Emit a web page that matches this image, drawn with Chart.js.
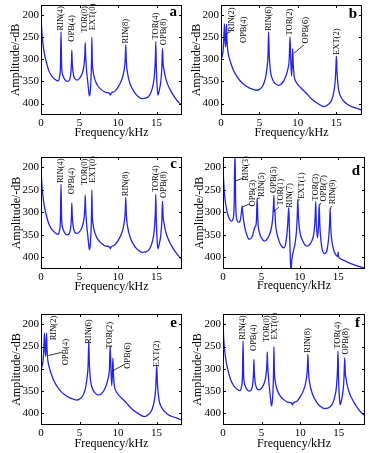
<!DOCTYPE html>
<html><head><meta charset="utf-8">
<script src="https://cdn.jsdelivr.net/npm/chart.js@4.4.1/dist/chart.umd.min.js"></script>
<style>
html,body{margin:0;padding:0;background:#fff;}
#wrap{position:relative;width:374px;height:453px;overflow:hidden;background:#fff;}
canvas{position:absolute;}
</style></head><body><div id="wrap"></div>
<script>
// ---------- data ----------
const xTicks = [0, 5, 10, 15];
const yTicks = [200, 250, 300, 350, 400];

// spectrum shown in panels a, c, f (kHz, dB)
const freqA = [0,0.1,0.2,0.4,0.7,1.0,1.4,1.8,2.2,2.4,2.52,2.6,2.68,2.85,3.1,3.4,3.7,3.88,3.96,4.0,4.05,4.15,4.35,4.65,5.0,5.3,5.5,5.63,5.7,5.74,5.79,5.9,6.05,6.18,6.28,6.38,6.47,6.55,6.6,6.65,6.75,6.95,7.3,7.8,8.4,8.9,9.0,9.1,9.6,10.1,10.5,10.78,10.93,11.0,11.07,11.25,11.6,12.1,12.6,13.1,13.6,14.1,14.45,14.7,14.84,14.9,14.97,15.08,15.18,15.35,15.55,15.68,15.77,15.85,15.95,16.1,16.4,16.9,17.4,17.9,18.3];
const ampA  = [198,235,256,283,307,325,338,345,349,340,318,238,316,337,346,350,346,330,305,279,305,328,343,347,343,334,322,305,285,262,290,322,348,370,383,375,352,310,250,300,325,343,358,368,375,377,381,377,372,360,345,325,300,267,303,333,357,374,384,389,388,381,365,340,300,260,320,365,381,370,350,320,275,310,322,337,355,373,387,398,404];

// spectrum shown in panels b, e
const freqB = [0,0.15,0.28,0.36,0.45,0.52,0.6,0.66,0.72,0.78,0.88,1.05,1.3,1.6,2.0,2.5,3.0,3.6,4.2,4.6,5.0,5.4,5.75,5.98,6.12,6.2,6.28,6.42,6.65,7.0,7.5,8.0,8.4,8.7,8.88,8.98,9.08,9.18,9.27,9.33,9.4,9.52,9.8,10.3,11.0,11.8,12.6,13.4,13.9,14.4,14.7,14.88,14.96,15.02,15.1,15.3,15.7,16.3,17.0,17.7,18.35];
const ampB  = [300,293,280,255,220,255,272,250,220,255,280,295,310,324,337,349,357,364,368,370,368,361,345,320,290,238,290,325,343,354,359,353,340,322,300,249,300,338,310,276,310,338,352,363,375,390,400,407,403,392,372,345,315,293,330,368,388,400,407,411,415];

// spectrum shown in panel d
const freqD = [0,0.1,0.2,0.35,0.55,0.8,1.1,1.3,1.45,1.56,1.66,1.8,2.0,2.25,2.4,2.5,2.6,2.8,3.1,3.4,3.75,4.0,4.15,4.25,4.35,4.45,4.55,4.75,5.05,5.4,5.8,6.2,6.45,6.56,6.63,6.69,6.75,6.82,6.95,7.3,7.7,7.95,8.2,8.4,8.5,8.57,8.64,8.74,8.85,8.97,9.15,9.4,9.58,9.68,9.74,9.82,9.98,10.35,10.9,11.5,11.85,12.0,12.08,12.16,12.32,12.44,12.53,12.62,12.85,13.25,13.55,13.8,13.9,13.96,14.04,14.3,14.65,14.95,15.0,15.05,15.5,16.5,17.5,18.5];
const ampD  = [205,235,260,282,300,313,320,315,285,165,285,316,322,318,300,286,305,330,350,360,356,342,333,331,320,268,320,345,358,364,358,342,318,290,262,300,294,320,340,364,377,379,366,335,305,290,330,385,432,405,388,368,340,305,271,305,340,362,375,366,345,312,276,322,357,330,282,330,375,392,384,350,318,292,335,375,393,398,388,399,405,413,419,424];

// peak labels: text, frequency (kHz), amplitude where the text starts (dB)
const notesAText = ['RIN(4)','OPB(4)','TOR(0)','EXT(0)','RIN(8)','TOR(4)','OPB(8)'];
const notesAFreq = [2.6, 4.0, 5.72, 6.7, 11.0, 14.85, 15.9];
const notesADb   = [235, 260, 240, 234, 264, 255, 268];

const notesBText = ['RIN(2)','OPB(4)','RIN(6)','TOR(2)','OPB(6)','EXT(2)'];
const notesBFreq = [1.4, 2.9, 6.17, 9.0, 11.0, 15.05];
const notesBDb   = [238, 263, 236, 246, 264, 290];
const leadersB   = [[0.74, 242, 1.25, 237], [9.5, 286, 10.75, 268]];

const notesEText = ['RIN(2)','OPB(4)','RIN(6)','TOR(2)','OPB(6)','EXT(2)'];
const notesEFreq = [1.65, 3.15, 6.25, 8.9, 11.2, 15.0];
const notesEDb   = [236, 292, 244, 255, 300, 296];
const leadersE   = [[0.95, 270, 2.7, 263], [9.35, 304, 10.85, 290]];

const notesDText = ['RIN(3)','OPB(3)','RIN(5)','OPB(5)','TOR(1)','RIN(7)','EXT(1)','TOR(3)','OPB(7)','RIN(9)'];
const notesDFreq = [3.0, 3.85, 5.08, 6.6, 7.58, 8.7, 10.26, 12.12, 13.07, 14.36];
const notesDDb   = [230, 287, 266, 257, 285, 290, 270, 274, 276, 282];
const leadersD   = [[1.62, 230, 2.65, 224], [2.52, 288, 3.5, 281], [4.47, 270, 4.8, 268], [6.75, 296, 7.3, 288], [9.76, 273, 10.0, 272], [12.56, 284, 12.8, 279], [13.97, 294, 14.12, 286]];

const panelLetters = ['a','b','c','d','e','f'];

// ---------- drawing ----------
const SERIF = '"Liberation Serif", "Times New Roman", serif';
const wrap = document.getElementById('wrap');

const decor = {
  id: 'decor',
  afterDatasetsDraw(chart, args, o) {
    const {ctx, chartArea: ca, scales: {x, y}} = chart;
    ctx.save();
    ctx.strokeStyle = '#000';
    ctx.lineWidth = 1;
    ctx.strokeRect(ca.left + 0.5, ca.top + 0.5, ca.right - ca.left - 1, ca.bottom - ca.top - 1);
    ctx.beginPath();
    xTicks.forEach(v => {
      const px = Math.round(x.getPixelForValue(v)) + 0.5;
      ctx.moveTo(px, ca.bottom); ctx.lineTo(px, ca.bottom - 3);
      ctx.moveTo(px, ca.top); ctx.lineTo(px, ca.top + 3);
    });
    yTicks.forEach(v => {
      const py = Math.round(y.getPixelForValue(v)) + 0.5;
      ctx.moveTo(ca.left, py); ctx.lineTo(ca.left + 3, py);
      ctx.moveTo(ca.right, py); ctx.lineTo(ca.right - 3, py);
    });
    ctx.stroke();
    // leader lines
    ctx.lineWidth = 0.8;
    ctx.beginPath();
    (o.leaders || []).forEach(l => {
      ctx.moveTo(x.getPixelForValue(l[0]), y.getPixelForValue(l[1]));
      ctx.lineTo(x.getPixelForValue(l[2]), y.getPixelForValue(l[3]));
    });
    ctx.stroke();
    // rotated labels
    ctx.fillStyle = '#000';
    ctx.font = '8.5px ' + SERIF;
    ctx.textAlign = 'left';
    ctx.textBaseline = 'middle';
    o.text.forEach((t, i) => {
      ctx.save();
      ctx.translate(x.getPixelForValue(o.freq[i]), y.getPixelForValue(o.db[i]));
      ctx.rotate(-Math.PI / 2);
      ctx.fillText(t, 0, 0);
      ctx.restore();
    });
    // panel letter
    ctx.font = 'bold 15px ' + SERIF;
    ctx.textAlign = 'right';
    ctx.textBaseline = 'alphabetic';
    ctx.fillText(o.letter, ca.right - 5, ca.top + o.letterDy);
    ctx.restore();
  }
};

function makePanel(rect, freq, amp, text, nf, nd, leaders, letter) {
  const cv = document.createElement('canvas');
  const x0 = rect.l - 41, y0 = rect.t - 5;
  const w = rect.r - rect.l + 45, h = rect.b - rect.t + 35;
  cv.width = w; cv.height = h;
  cv.style.left = x0 + 'px'; cv.style.top = y0 + 'px';
  cv.style.width = w + 'px'; cv.style.height = h + 'px';
  wrap.appendChild(cv);
  new Chart(cv, {
    type: 'line',
    data: { datasets: [{
      data: freq.map((f, i) => ({x: f, y: amp[i]})),
      borderColor: '#2424e6', borderWidth: 1.3, pointRadius: 0,
      cubicInterpolationMode: 'monotone', fill: false
    }]},
    options: {
      responsive: false, animation: false, devicePixelRatio: 1,
      layout: {padding: {left: 0, top: 5, right: 4, bottom: 0}},
      plugins: {
        legend: {display: false}, tooltip: {enabled: false},
        decor: {text: text, freq: nf, db: nd, leaders: leaders, letter: letter, letterDy: rect.ld}
      },
      scales: {
        x: {
          type: 'linear', min: 0, max: rect.xmax,
          grid: {display: false, drawTicks: false}, border: {display: false},
          afterBuildTicks: s => { s.ticks = xTicks.map(v => ({value: v})); },
          afterFit: s => { s.height = 30; s.paddingLeft = 0; s.paddingRight = 0; },
          ticks: {font: {family: SERIF, size: 11}, color: '#000', padding: 2, maxRotation: 0, autoSkip: false},
          title: {display: true, text: 'Frequency/kHz', color: '#000', font: {family: SERIF, size: 12}, padding: {top: 0, bottom: rect.xpb}}
        },
        y: {
          type: 'linear', reverse: true, min: 177, max: 426,
          grid: {display: false, drawTicks: false}, border: {display: false},
          afterBuildTicks: s => { s.ticks = yTicks.map(v => ({value: v})); },
          afterFit: s => { s.width = 41; s.paddingTop = 0; s.paddingBottom = 0; },
          ticks: {font: {family: SERIF, size: 11}, color: '#000', padding: 2},
          title: {display: true, text: 'Amplitude/-dB', color: '#000', font: {family: SERIF, size: 12}, padding: {top: rect.ypt, bottom: 0}}
        }
      }
    },
    plugins: [decor]
  });
}

const rects = [
  {l: 41,  t: 5,   r: 182, b: 115, xmax: 18.3,  xpb: 4.5, ypt: 8.5, ld: 11},
  {l: 221, t: 5,   r: 362, b: 115, xmax: 18.35, xpb: 4.5, ypt: 9.5, ld: 13},
  {l: 41,  t: 157, r: 182, b: 269, xmax: 18.3,  xpb: 5,   ypt: 9.5, ld: 11},
  {l: 223, t: 157, r: 365, b: 269, xmax: 18.5,  xpb: 5.5, ypt: 10.5, ld: 18},
  {l: 41,  t: 314, r: 182, b: 425, xmax: 18.3,  xpb: 3.5, ypt: 9.5, ld: 13},
  {l: 223, t: 314, r: 365, b: 425, xmax: 18.4,  xpb: 3.5, ypt: 9,   ld: 12.5}
];

makePanel(rects[0], freqA, ampA, notesAText, notesAFreq, notesADb, [], panelLetters[0]);
makePanel(rects[1], freqB, ampB, notesBText, notesBFreq, notesBDb, leadersB, panelLetters[1]);
makePanel(rects[2], freqA, ampA, notesAText, notesAFreq, notesADb, [], panelLetters[2]);
makePanel(rects[3], freqD, ampD, notesDText, notesDFreq, notesDDb, leadersD, panelLetters[3]);
makePanel(rects[4], freqB, ampB, notesEText, notesEFreq, notesEDb, leadersE, panelLetters[4]);
makePanel(rects[5], freqA, ampA, notesAText, notesAFreq, notesADb, [], panelLetters[5]);
</script>
</body></html>
